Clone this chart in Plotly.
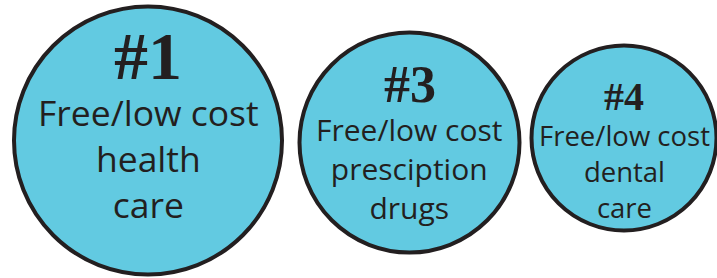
import plotly.graph_objects as go

# ---- data ----
ranks = ["#1", "#3", "#4"]
line1 = ["Free/low cost", "Free/low cost", "Free/low cost"]
line2 = ["health", "presciption", "dental"]
line3 = ["care", "drugs", "care"]

# ---- layout / geometry (pixels) ----
W, H = 717, 278
cx = [148, 409.5, 624]
cy = [140.5, 142.5, 138]
diam = [268, 220, 185]
rank_fs = [68, 52, 40]
body_fs = [35.5, 30, 27.5]
rank_base = [78, 102, 110]
mid_base = [171, 179, 181]   # baseline of the middle text line

FILL = "#62CAE1"
INK = "#231F20"

fig = go.Figure()
fig.add_trace(go.Scatter(
    x=cx, y=cy, mode="markers",
    marker=dict(size=diam, color=FILL, line=dict(color=INK, width=4), opacity=1),
    hoverinfo="skip", showlegend=False,
))

ann = []
for i in range(3):
    ann.append(dict(x=cx[i], y=rank_base[i] - 0.33 * rank_fs[i], text="<b>" + ranks[i] + "</b>",
                    showarrow=False, xanchor="center", yanchor="middle",
                    font=dict(family="Liberation Serif", size=rank_fs[i], color=INK)))
    ann.append(dict(x=cx[i], y=mid_base[i] - 0.36 * body_fs[i],
                    text="<br>".join([line1[i], line2[i], line3[i]]),
                    showarrow=False, xanchor="center", yanchor="middle", align="center",
                    font=dict(family="Open Sans", size=body_fs[i], color=INK)))

fig.update_layout(
    width=W, height=H, margin=dict(l=0, r=0, t=0, b=0),
    paper_bgcolor="white", plot_bgcolor="white",
    xaxis=dict(range=[0, W], visible=False, fixedrange=True),
    yaxis=dict(range=[H, 0], visible=False, fixedrange=True),
    annotations=ann,
)
fig.write_html("out.html", config={"displayModeBar": False},
               post_script="document.body.style.margin='0';document.body.style.overflow='hidden';")
